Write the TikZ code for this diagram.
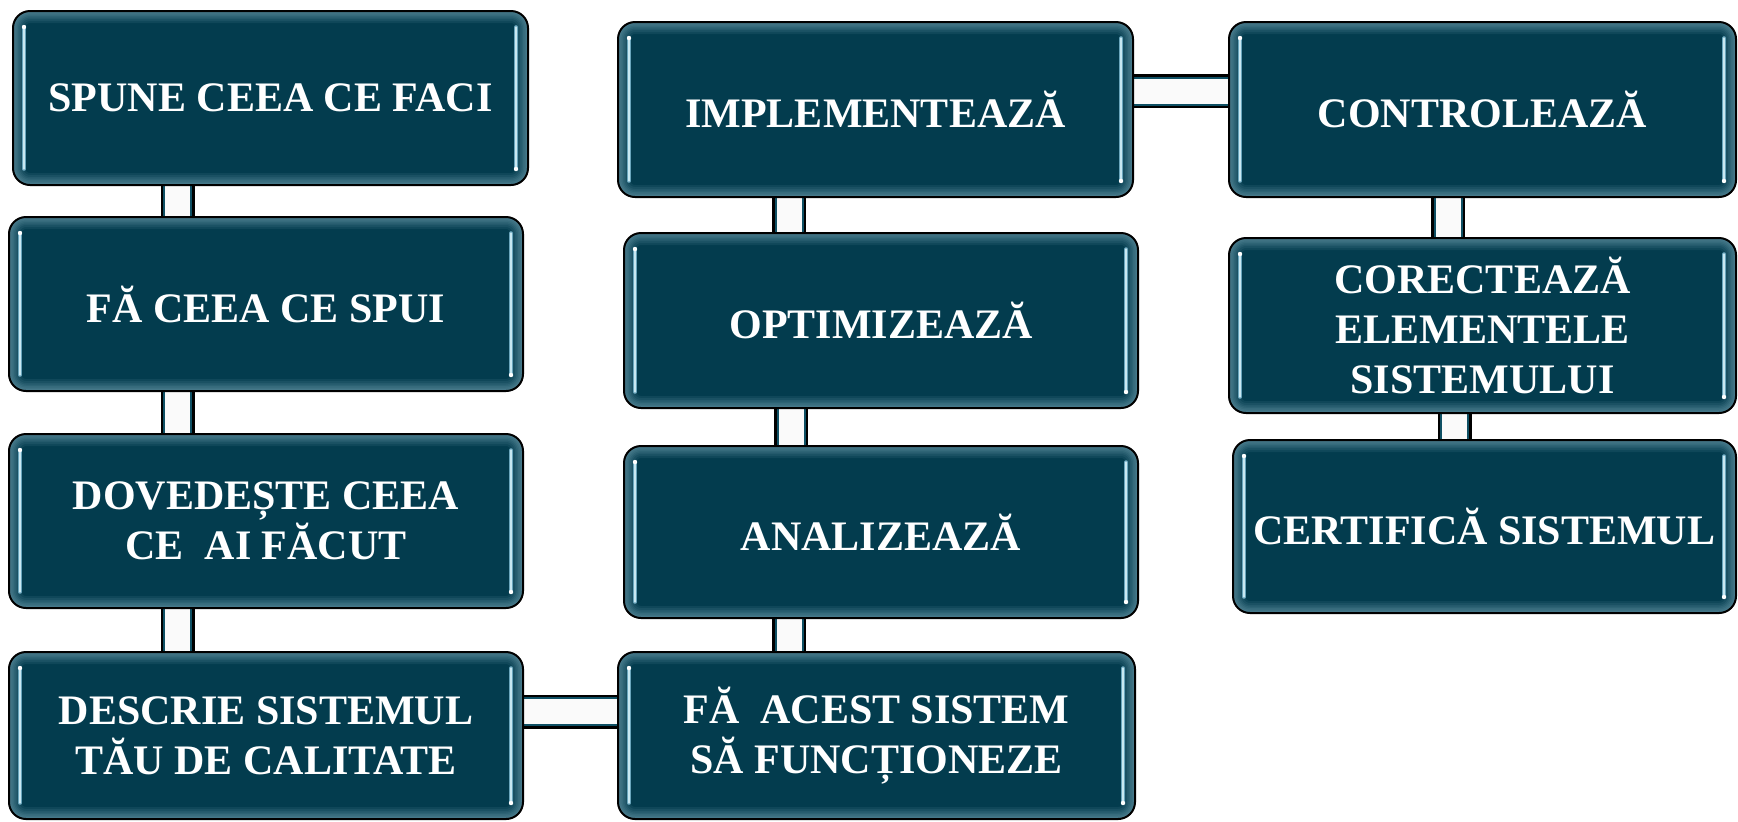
\documentclass[tikz,border=0pt]{standalone}
\usepackage{fontspec}
\setmainfont{Liberation Serif}
\usetikzlibrary{backgrounds,calc}
\definecolor{boxfill}{RGB}{3,60,78}
\definecolor{glow}{RGB}{150,195,210}
\definecolor{hilite}{RGB}{105,165,188}
\definecolor{hicore}{RGB}{200,232,242}
\definecolor{connteal}{RGB}{15,80,100}
\definecolor{connwhite}{RGB}{250,250,250}
\tikzset{
  stepbox/.style={rectangle, rounded corners=8.5pt, fill=boxfill, draw=black,
    line width=1pt, text=white, align=center, inner sep=0pt,
    font=\bfseries\fontsize{21pt}{25pt}\selectfont,
    path picture={
      \foreach \lw in {12pt, 10pt, 8pt, 6.5pt, 5pt, 3.5pt, 2pt}{
        \draw[glow, line width=\lw, opacity=0.085, rounded corners=8.5pt]
          (path picture bounding box.south west) rectangle (path picture bounding box.north east);
      }
      \draw[hilite, line width=1.8pt, line cap=round]
        ([xshift=5.5pt,yshift=-8pt]path picture bounding box.north west) --
        ([xshift=5.5pt,yshift=8pt]path picture bounding box.south west);
      \draw[hicore, line width=0.6pt, line cap=round]
        ([xshift=5.5pt,yshift=-8pt]path picture bounding box.north west) --
        ([xshift=5.5pt,yshift=8pt]path picture bounding box.south west);
      \fill[white] ([xshift=5.5pt,yshift=-8pt]path picture bounding box.north west) circle (1.1pt);
      \draw[hilite, line width=1.8pt, line cap=round]
        ([xshift=-6pt,yshift=-8pt]path picture bounding box.north east) --
        ([xshift=-6pt,yshift=8pt]path picture bounding box.south east);
      \draw[hicore, line width=0.6pt, line cap=round]
        ([xshift=-6pt,yshift=-8pt]path picture bounding box.north east) --
        ([xshift=-6pt,yshift=8pt]path picture bounding box.south east);
      \fill[white] ([xshift=-6pt,yshift=8pt]path picture bounding box.south east) circle (1.1pt);
    }},
  bw/.style 2 args={minimum width=#1*0.5pt, minimum height=#2*0.5pt},
  conn/.style={line width=17pt, draw=black,
    postaction={draw=connteal, line width=14.5pt},
    postaction={draw=connwhite, line width=12.5pt}}
}
\begin{document}
\begin{tikzpicture}[x=0.5pt, y=-0.5pt]
\useasboundingbox (0,0) rectangle (1738,821);
% column 1
\node[stepbox, bw={515}{174}] (b1) at (270.5,98) {SPUNE CEEA CE FACI};
\node[stepbox, bw={514}{174}] (b2) at (266,304) {FĂ CEEA CE SPUI};
\node[stepbox, bw={514}{174}] (b3) at (266,521) {DOVEDEȘTE CEEA\\CE \ AI FĂCUT};
\node[stepbox, bw={514}{167}] (b4) at (266,735.5) {DESCRIE SISTEMUL\\TĂU DE CALITATE};
% column 2
\node[stepbox, bw={515}{175}] (c1) at (875.5,109.5) {IMPLEMENTEAZĂ};
\node[stepbox, bw={514}{175}] (c2) at (881,320.5) {OPTIMIZEAZĂ};
\node[stepbox, bw={514}{172}] (c3) at (881,532) {ANALIZEAZĂ};
\node[stepbox, bw={517}{167}] (c4) at (876.5,735.5) {FĂ \ ACEST SISTEM\\SĂ FUNCȚIONEZE};
% column 3
\node[stepbox, bw={507}{175}] (d1) at (1482.5,109.5) {CONTROLEAZĂ};
\node[stepbox, bw={507}{175}] (d2) at (1482.5,325.5) {CORECTEAZĂ\\ELEMENTELE\\SISTEMULUI};
\node[stepbox, bw={503}{173}] (d3) at (1484.5,526.5) {CERTIFICĂ SISTEMUL};
% connector guides
\coordinate (k1) at (177.5,0);
\coordinate (k2) at (789,0);
\coordinate (k3) at (791,0);
\coordinate (k4) at (789,0);
\coordinate (k5) at (1448,0);
\coordinate (k6) at (1454.5,0);
\coordinate (h1) at (0,711.5);
\coordinate (h2) at (0,91);
\begin{pgfonlayer}{background}
\draw[conn] (b1.south -| k1) -- (b2.north -| k1);
\draw[conn] (b2.south -| k1) -- (b3.north -| k1);
\draw[conn] (b3.south -| k1) -- (b4.north -| k1);
\draw[conn] (c1.south -| k2) -- (c2.north -| k2);
\draw[conn] (c2.south -| k3) -- (c3.north -| k3);
\draw[conn] (c3.south -| k4) -- (c4.north -| k4);
\draw[conn] (d1.south -| k5) -- (d2.north -| k5);
\draw[conn] (d2.south -| k6) -- (d3.north -| k6);
\draw[conn] (b4.east |- h1) -- (c4.west |- h1);
\draw[conn] (c1.east |- h2) -- (d1.west |- h2);
\end{pgfonlayer}
\end{tikzpicture}
\end{document}
